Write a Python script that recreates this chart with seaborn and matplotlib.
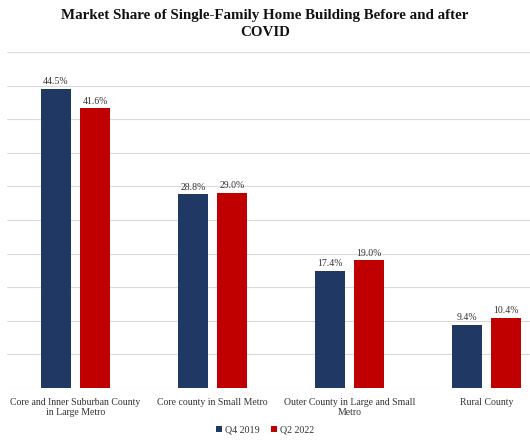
import matplotlib
matplotlib.use("Agg")
import matplotlib.pyplot as plt
import seaborn as sns
import pandas as pd
import numpy as np
from matplotlib.patches import Patch

categories = ["Core and Inner Suburban County\nin Large Metro",
              "Core county in Small Metro",
              "Outer County in Large and Small\nMetro",
              "Rural County"]
q4_2019 = [44.5, 28.8, 17.4, 9.4]
q2_2022 = [41.6, 29.0, 19.0, 10.4]
series = ["Q4 2019", "Q2 2022"]
colors = ["#1F3864", "#C00000"]

df = pd.DataFrame({
    "category": categories * 2,
    "value": q4_2019 + q2_2022,
    "series": [series[0]] * 4 + [series[1]] * 4,
})

sns.set_style("white")
plt.rcParams["font.family"] = ["Liberation Serif", "DejaVu Serif"]

fig = plt.figure(figsize=(5.30, 4.42), dpi=100)
ax = fig.add_axes([7 / 530, 54 / 442, 548 / 530, 336 / 442])

sns.barplot(data=df, x="category", y="value", hue="series", palette=colors,
            width=0.57, gap=0.23, ax=ax, legend=False, saturation=1,
            edgecolor="none")

ax.set_ylim(0, 50)
ax.set_yticks(np.arange(0, 51, 5))
ax.yaxis.grid(True, color="#D9D9D9", linewidth=0.8)
ax.set_axisbelow(True)
ax.tick_params(axis="y", left=False, labelleft=False)
ax.tick_params(axis="x", bottom=False, pad=4, labelsize=7.0, colors="#333333")
for lbl in ax.get_xticklabels():
    lbl.set_linespacing(1.15)
ax.set_xlabel("")
ax.set_ylabel("")
for s in ax.spines.values():
    s.set_visible(False)

for cont in ax.containers:
    ax.bar_label(cont, fmt="%.1f%%", padding=2, fontsize=7.0, color="#333333")

fig.text(0.5, 1 - 9 / 442,
         "Market Share of Single-Family Home Building Before and after\nCOVID",
         ha="center", va="top", fontsize=10.8, fontweight="bold",
         linespacing=1.45, color="#111111")

handles = [Patch(facecolor=c, edgecolor="none") for c in colors]
fig.legend(handles, series, loc="center", bbox_to_anchor=(0.5, 1 - 430 / 442),
           ncol=2, frameon=False, fontsize=7.2, handlelength=0.55,
           handleheight=0.55, handletextpad=0.3, columnspacing=1.2,
           labelcolor="#333333")

fig.savefig("out.png", dpi=100)
